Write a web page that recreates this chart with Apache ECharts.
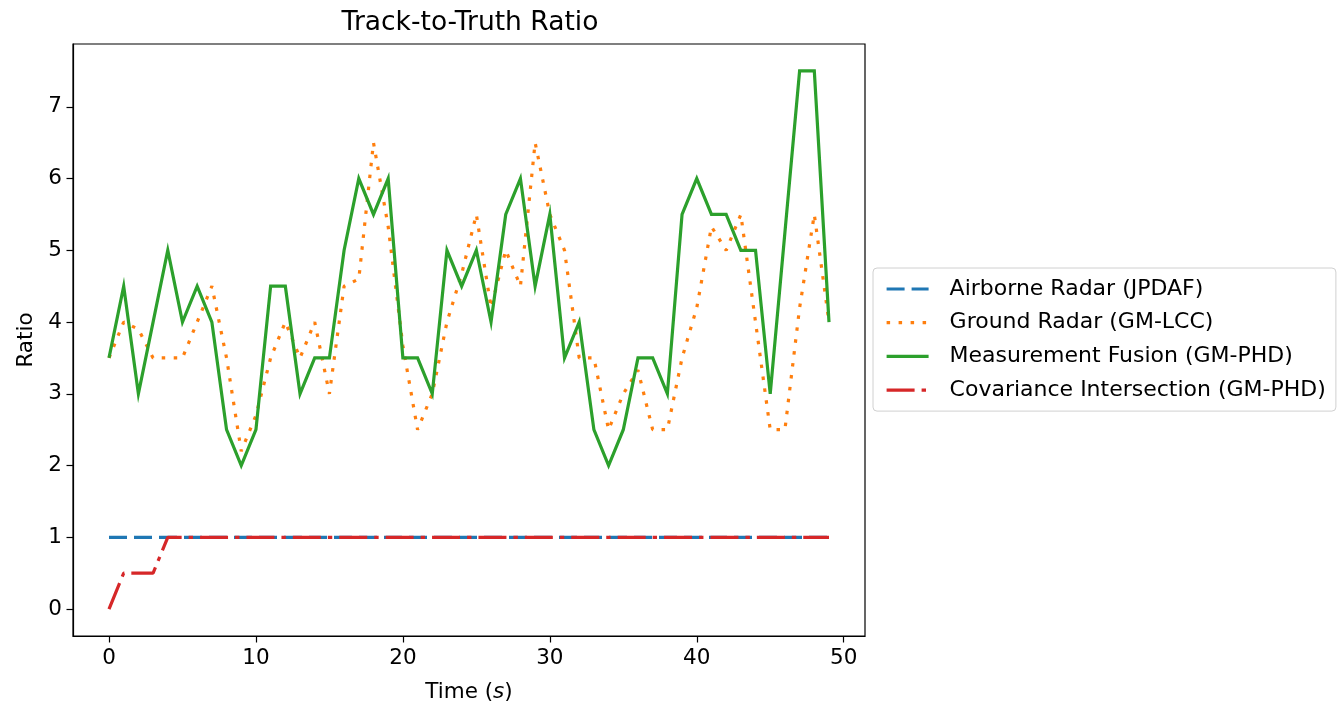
<!DOCTYPE html>
<html>
<head>
<meta charset="utf-8">
<script src="https://cdn.jsdelivr.net/npm/echarts@6/dist/echarts.min.js"></script>
<style>
html,body{margin:0;padding:0;background:#fff;}
#chart{width:1344px;height:708px;}
</style>
</head>
<body>
<div id="chart"></div>
<script>
const times = Array.from({length: 50}, (_, i) => i);
const airborne = [1,1,1,1,1,1,1,1,1,1,1,1,1,1,1,1,1,1,1,1,1,1,1,1,1,1,1,1,1,1,1,1,1,1,1,1,1,1,1,1,1,1,1,1,1,1,1,1,1,1];
const ground = [3.5,4,3.9,3.5,3.5,3.5,4,4.5,3.5,2.2,2.7,3.5,4,3.5,4,3,4.5,4.6,6.5,5.33,3.67,2.5,3,4,4.67,5.5,4.2,5,4.5,6.5,5.5,5,3.5,3.5,2.5,3,3.33,2.5,2.5,3.5,4.2,5.33,5,5.5,4,2.5,2.5,4.2,5.5,4];
const fusion = [3.5,4.5,3,4,5,4,4.5,4,2.5,2,2.5,4.5,4.5,3,3.5,3.5,5,6,5.5,6,3.5,3.5,3,5,4.5,5,4,5.5,6,4.5,5.5,3.5,4,2.5,2,2.5,3.5,3.5,3,5.5,6,5.5,5.5,5,5,3,5.25,7.5,7.5,4];
const covint = [0,0.5,0.5,0.5,1,1,1,1,1,1,1,1,1,1,1,1,1,1,1,1,1,1,1,1,1,1,1,1,1,1,1,1,1,1,1,1,1,1,1,1,1,1,1,1,1,1,1,1,1,1];
const xTicks = [0,10,20,30,40,50];
const yTicks = [0,1,2,3,4,5,6,7];
const seriesNames = ['Airborne Radar (JPDAF)','Ground Radar (GM-LCC)','Measurement Fusion (GM-PHD)','Covariance Intersection (GM-PHD)'];

const FONT = 'DejaVu Sans';
const TXT = '#000';
const FS = 21.5;
const pair = (arr) => times.map((t, i) => [t, arr[i]]);
const LW = 3.2;

const chart = echarts.init(document.getElementById('chart'), null, {renderer: 'canvas'});
chart.setOption({
  animation: false,
  backgroundColor: '#fff',
  title: {
    text: 'Track-to-Truth Ratio',
    left: 465, top: 5, textAlign: 'center',
    textStyle: {fontFamily: FONT, fontSize: 26.5, fontWeight: 'normal', color: TXT}
  },
  grid: {left: 73, top: 44, width: 792, height: 592, show: true, borderColor: '#000', borderWidth: 1.2, backgroundColor: 'transparent'},
  legend: {
    orient: 'vertical',
    left: 873, top: 268,
    padding: [10, 10, 10, 12],
    itemGap: 11.7,
    itemWidth: 42, itemHeight: 18,
    backgroundColor: '#fff',
    borderColor: '#d0d0d0', borderWidth: 1, borderRadius: 4,
    itemStyle: {opacity: 0},
    lineStyle: {width: LW},
    textStyle: {fontFamily: FONT, fontSize: 22, color: TXT, padding: [0, 0, 0, 16]},
    data: seriesNames
  },
  xAxis: {
    type: 'value', min: -2.45, max: 51.45,
    name: '{n|Time (}{i|s}{n|)}',
    nameLocation: 'middle', nameGap: 45,
    nameTextStyle: {rich: {
      n: {fontFamily: FONT, fontSize: FS, color: TXT},
      i: {fontFamily: FONT, fontSize: FS, color: TXT, fontStyle: 'italic'}
    }},
    axisLine: {show: true, onZero: false, lineStyle: {color: '#000', width: 1.2}},
    axisTick: {show: true, inside: false, length: 6.5, lineStyle: {color: '#000', width: 1.2}, customValues: xTicks},
    axisLabel: {fontFamily: FONT, fontSize: FS, color: TXT, margin: 11, customValues: xTicks, formatter: v => String(v)},
    splitLine: {show: false}
  },
  yAxis: {
    type: 'value', min: -0.375, max: 7.875,
    name: 'Ratio',
    nameLocation: 'middle', nameGap: 36, nameRotate: 90,
    nameTextStyle: {fontFamily: FONT, fontSize: FS, color: TXT},
    axisLine: {show: true, onZero: false, lineStyle: {color: '#000', width: 1.2}},
    axisTick: {show: true, inside: false, length: 6.5, lineStyle: {color: '#000', width: 1.2}, customValues: yTicks},
    axisLabel: {fontFamily: FONT, fontSize: FS, color: TXT, margin: 11, customValues: yTicks, formatter: v => String(v)},
    splitLine: {show: false}
  },
  series: [
    {name: seriesNames[0], type: 'line', data: pair(airborne), symbol: 'none', color: '#1f77b4',
     lineStyle: {color: '#1f77b4', width: LW, type: [18, 7], cap: 'butt'}},
    {name: seriesNames[1], type: 'line', data: pair(ground), symbol: 'none', color: '#ff7f0e',
     lineStyle: {color: '#ff7f0e', width: LW, type: [3.5, 8.5], cap: 'butt'}},
    {name: seriesNames[2], type: 'line', data: pair(fusion), symbol: 'none', color: '#2ca02c',
     lineStyle: {color: '#2ca02c', width: LW, type: 'solid', cap: 'butt', join: 'miter'}},
    {name: seriesNames[3], type: 'line', data: pair(covint), symbol: 'none', color: '#d62728',
     lineStyle: {color: '#d62728', width: LW, type: [28, 7, 4.4, 7], cap: 'butt'}}
  ]
});
</script>
</body>
</html>
